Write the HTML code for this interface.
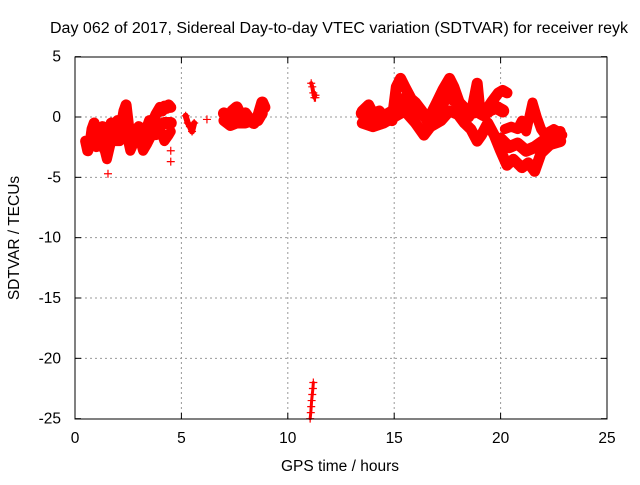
<!DOCTYPE html>
<html><head><meta charset="utf-8"><style>
body{margin:0;background:#fff}
svg text{font-family:"Liberation Sans",sans-serif;font-size:15.5px;fill:#000}
</style></head><body>
<svg id="c" width="640" height="480">
<rect width="640" height="480" fill="#fff"/>
<text x="339" y="33" text-anchor="middle" textLength="578" lengthAdjust="spacingAndGlyphs">Day 062 of 2017, Sidereal Day-to-day VTEC variation (SDTVAR) for receiver reyk</text>
<text x="340" y="471" text-anchor="middle">GPS time / hours</text>
<text transform="translate(19,238) rotate(-90)" text-anchor="middle">SDTVAR / TECUs</text>
<g id="grid"></g><g id="marks"></g>
<rect x="75" y="57" width="532" height="362" fill="none" stroke="#000"/>
</svg>
<script>
const xTicks=[0,5,10,15,20,25];
const yTicks=[5,0,-5,-10,-15,-20,-25];
const tA=[0.5,0.6,0.7,0.8,0.9,1.0,1.1,1.2,1.3,1.4,1.5,1.6,1.7,1.8,1.9,2.0,2.1,2.2,2.3,2.4,2.5,2.6,2.7,2.8,2.9,3.0,3.1,3.2,3.3,3.4,3.5,3.6,3.7,3.8,3.9,4.0,4.1,4.2,4.3,4.4,4.5];
const vA=[-2,-2.8,-2.3,-1,-0.5,-1.5,-2,-1,-0.8,-1.8,-3,-1,-0.5,-1.5,-0.5,-0.3,-1,-0.5,0.5,1,-0.5,-2,-1.5,-1.3,-1,-0.8,-1.5,-2.3,-1.5,-0.8,-0.3,-0.5,-0.2,0.2,0.5,0.8,0.5,0.9,0.7,1,0.8];
const tB=[0.6,0.8,1.0,1.2,1.4,1.5,1.7,1.9,2.1,2.3,2.5,2.6,2.8,3.0,3.2,3.4,3.6,3.8,4.0,4.2,4.4,4.5];
const vB=[-2.5,-1.8,-2.5,-2.2,-2.8,-3.5,-2,-2,-2,-1.5,-2,-2.8,-2,-1.5,-2.8,-2.2,-1.5,-1.5,-1,-2,-1.5,-1.2];
const tM1=[0.6,1.0,1.4,1.8,2.2,2.6,3.0,3.4,3.8,4.2,4.5];
const vM1=[-2.2,-1.8,-2,-1.2,-1.2,-1.5,-1,-1.2,-0.8,-0.5,-0.5];
const tC=[5.2,5.3,5.4,5.5,5.6];
const vC=[0.1,-0.5,-0.8,-1.2,-0.5];
const tD=[7.0,7.2,7.4,7.6,7.8,8.0,8.2,8.4,8.6,8.8,8.9];
const vD=[0.3,-0.3,0.5,0.8,0,0.3,-0.2,-0.5,0,1.2,0.8];
const tE=[7.0,7.3,7.6,8.0,8.3,8.6,8.8];
const vE=[-0.3,-0.7,-0.5,-0.5,-0.3,-0.3,0.3];
const tF=[11.1,11.15,11.2,11.25,11.3];
const vF=[2.8,2.5,2.0,1.6,1.8];
const tG=[11.05,11.08,11.1,11.12,11.15,11.18,11.2];
const vG=[-25,-24.5,-24,-23.5,-23,-22.5,-22];
const tH=[13.5,13.8,14.0,14.3,14.6,14.9,15.1,15.3,15.5,15.8,16.0,16.3,16.6,16.8,17.0,17.3,17.6,17.8,18.0,18.2,18.5,18.7,18.9,19.0,19.3,19.6,19.9,20.1,20.3];
const vH=[0.5,1,0.3,0.5,-0.2,-0.3,2.5,3.2,2.5,1.5,1.2,0.5,-0.5,0.5,1.2,2.3,3.2,2.5,1.5,0.5,0,1,2.8,1,0.5,1.3,2,2.2,2.0];
const tM2=[13.5,14.0,14.5,15.0,15.5,16.0,16.5,17.0,17.5,18.0,18.5,18.9,19.2,19.5,19.8,20.1];
const vM2=[0.3,0.2,0,0.5,1.5,0.8,0,0.5,1.8,1.2,0.3,0.5,0.2,0.6,0.8,0.5];
const tI=[13.5,14.0,14.5,15.0,15.5,16.0,16.4,16.7,17.2,17.6,18.0,18.3,18.6,18.9,19.1,19.4,19.7,20.0,20.3,20.6,21.0,21.3,21.6,21.9,22.2,22.5,22.8];
const vI=[-0.5,-0.8,-0.5,0,0.5,-0.5,-1.5,-0.8,-0.3,0.5,0.2,-0.5,-1,-2,-1.5,-0.5,-1.5,-2.8,-4,-3.5,-4.2,-3.8,-4.5,-3,-2.5,-2,-1.2];
const tJ=[20.2,20.5,20.8,21.0,21.2,21.5,21.7,21.9,22.1,22.3,22.5,22.7,22.9];
const vJ=[-1,-0.8,-1,-0.3,-1.2,1.2,0,-1,-1.5,-1.2,-1,-1.2,-1.5];
const tM3=[20.0,20.4,20.8,21.2,21.6,22.0,22.4,22.8];
const vM3=[-1.8,-2.5,-2.2,-2.8,-2.5,-2,-2.2,-2];
const tK=[1.55,4.5,4.5,6.2,11.3];
const vK=[-4.7,-2.8,-3.7,-0.2,1.6];

const X=t=>75+t*532/25, Y=v=>117-v*362/30;
const NS='http://www.w3.org/2000/svg';
const grid=document.getElementById('grid'), marks=document.getElementById('marks');
function mk(tag,attrs,parent){const e=document.createElementNS(NS,tag);for(const k in attrs)e.setAttribute(k,attrs[k]);parent.appendChild(e);return e;}
xTicks.forEach(t=>{
  if(t>0&&t<25){const l=mk('line',{x1:X(t),x2:X(t),y1:57,y2:419,stroke:'#999','stroke-dasharray':'2,3'},grid);
  
  }
  mk('line',{x1:X(t),x2:X(t),y1:419,y2:413,stroke:'#000'},grid);
  mk('line',{x1:X(t),x2:X(t),y1:57,y2:63,stroke:'#000'},grid);
  const tx=mk('text',{x:X(t),y:443,'text-anchor':'middle'},grid);tx.textContent=t;
  
  
});
yTicks.forEach(v=>{
  if(v<5&&v>-25){const l=mk('line',{x1:75,x2:607,y1:Y(v),y2:Y(v),stroke:'#999','stroke-dasharray':'2,3'},grid);
  
  }
  mk('line',{x1:75,x2:81,y1:Y(v),y2:Y(v),stroke:'#000'},grid);
  mk('line',{x1:607,x2:601,y1:Y(v),y2:Y(v),stroke:'#000'},grid);
  const tx=mk('text',{x:61,y:Y(v)+5,'text-anchor':'end'},grid);tx.textContent=v;
  
  
});
const tracks=[[tA,vA,11],[tB,vB,10],[tM1,vM1,12],[tC,vC,6],[tD,vD,12],[tE,vE,11],[tF,vF,4],[tG,vG,3],[tH,vH,11],[tM2,vM2,13],[tI,vI,11],[tJ,vJ,10],[tM3,vM3,12],[tK,vK,0]];
tracks.forEach(([ts,vs,w])=>{
  if(w>0){const p=mk('polyline',{points:ts.map((t,i)=>X(t)+','+Y(vs[i])).join(' '),fill:'none',stroke:'#f00','stroke-width':w,'stroke-linejoin':'round','stroke-linecap':'round'},marks);
  
  }
  ts.forEach((t,i)=>{
    const x=X(t),y=Y(vs[i]);
    const m=mk('path',{d:`M${x-4},${y}h8M${x},${y-4}v8`,stroke:'#f00','stroke-width':1.2},marks);
    
    
  });
});
</script>
</body></html>
